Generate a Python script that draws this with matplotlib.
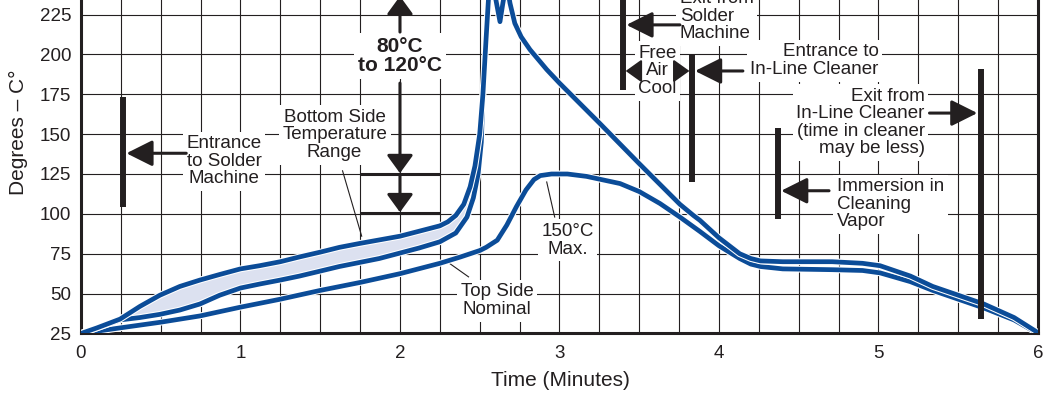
import matplotlib
matplotlib.use('Agg')
import matplotlib.pyplot as plt
import matplotlib.patheffects as pe
import numpy as np

plt.rcParams['font.family'] = ['Liberation Sans', 'DejaVu Sans']

# ---------------- data ----------------
# Bottom side temperature range - upper bound (continues through the wave peak and cooling)
bottom_hi_time = [0, 0.1, 0.245, 0.37, 0.495, 0.62, 0.746, 0.87, 1.0, 1.12, 1.25, 1.37, 1.5, 1.62,
                  1.75, 2.0, 2.25, 2.30, 2.35, 2.40, 2.44, 2.47, 2.50, 2.52, 2.54, 2.555, 2.575,
                  2.598, 2.627, 2.645, 2.668, 2.69, 2.72, 2.76, 2.815, 2.92, 3.0, 3.25, 3.5, 3.755,
                  3.84, 3.88, 4.0, 4.13, 4.2, 4.26, 4.4, 4.71, 4.9, 5.01, 5.2, 5.34, 5.5, 5.66,
                  5.85, 6.0]
bottom_hi_temp = [25, 28.5, 34, 42, 49, 54.5, 58.5, 62, 65.5, 67.5, 70, 73, 76, 79,
                  81.5, 86, 92.5, 95, 99, 106, 117, 130, 150, 175, 210, 235, 250,
                  236, 220.5, 232, 245, 232, 219.5, 211, 203, 190.5, 182, 157, 131.5, 106,
                  99, 96, 85, 75, 72, 70.5, 70, 70, 69, 67.5, 61, 54.5, 49, 43.5,
                  35, 25.5]

# Bottom side temperature range - lower bound (merges with upper bound at the wave)
bottom_lo_time = [0, 0.1, 0.245, 0.37, 0.495, 0.62, 0.746, 0.87, 1.0, 1.12, 1.25, 1.37, 1.62,
                  1.87, 2.12, 2.25, 2.35, 2.42, 2.46, 2.49, 2.51, 2.52]
bottom_lo_temp = [25, 28.5, 33.5, 35, 37, 39.7, 43.5, 49, 53.5, 56, 58.5, 61, 67,
                  72, 78.6, 82.5, 88, 98, 110, 125, 145, 175]

# Top side nominal
top_time = [0, 0.245, 0.495, 0.746, 1.0, 1.25, 1.5, 1.75, 2.0, 2.25, 2.38, 2.5, 2.54, 2.61,
            2.67, 2.73, 2.79, 2.84, 2.88, 2.95, 3.05, 3.17, 3.38, 3.5, 3.63, 3.755, 3.88, 4.0,
            4.13, 4.2, 4.26, 4.4, 4.71, 4.9, 5.01, 5.2, 5.34, 5.5, 5.66, 5.85, 6.0]
top_temp = [25, 28.5, 32, 36, 41.5, 46.5, 52, 57, 62.5, 69, 73, 77, 79, 83.5,
            93, 104.5, 115, 121.5, 124, 125, 125, 123.5, 119, 114, 106.5, 98, 89, 80,
            72, 68.5, 67, 65.5, 65, 64.5, 63, 57.5, 52, 46.5, 41, 33.5, 25]

x_ticks = [0, 1, 2, 3, 4, 5, 6]
y_ticks = [25, 50, 75, 100, 125, 150, 175, 200, 225]

INK = '#231f20'
BLUE = '#0b4c98'
FILL = '#dce1f0'

fig = plt.figure(figsize=(10.57, 4.03), dpi=100)
ax = fig.add_axes([0.0766, 0.1725, 0.9054, 0.8275])
ax.set_xlim(0, 6)
ax.set_ylim(25, 234.1)

ax.set_xticks(x_ticks)
ax.set_xticks(np.arange(0, 6.01, 0.25), minor=True)
ax.set_yticks(y_ticks)
ax.tick_params(axis='both', which='both', length=0, labelsize=13.5, colors=INK)
ax.tick_params(axis='x', pad=8)
ax.tick_params(axis='y', pad=7)
ax.grid(True, which='both', color=INK, lw=0.8, zorder=0)
ax.set_axisbelow(True)
for s in ['left', 'bottom', 'right']:
    ax.spines[s].set_linewidth(2.2)
    ax.spines[s].set_color(INK)
ax.spines['top'].set_visible(False)

fig.text(0.017, 0.672, 'Degrees – C°', rotation=90, ha='center', va='center',
         fontsize=15, color=INK)
fig.text(0.530, 0.057, 'Time (Minutes)', ha='center', va='center', fontsize=15, color=INK)

# band fill
band_x = [t for t in bottom_hi_time if t <= 2.52] + bottom_lo_time[::-1]
band_y = [v for t, v in zip(bottom_hi_time, bottom_hi_temp) if t <= 2.52] + bottom_lo_temp[::-1]
ax.fill(band_x, band_y, color=FILL, zorder=2, lw=0)

stroke = [pe.Stroke(linewidth=4.9, foreground='white'), pe.Normal()]
for xs, ys in [(top_time, top_temp), (bottom_lo_time, bottom_lo_temp),
               (bottom_hi_time, bottom_hi_temp)]:
    ax.plot(xs, ys, color=BLUE, lw=3.4, zorder=4, path_effects=stroke,
            solid_joinstyle='round', solid_capstyle='round')

# ---------- annotations ----------
box = dict(facecolor='white', edgecolor='none', pad=2.5)
tk = dict(fontsize=13.5, color=INK, linespacing=1.05, zorder=3, bbox=box)

def bar(x, y0, y1):
    ax.plot([x, x], [y0, y1], color=INK, lw=4.3, solid_capstyle='butt', zorder=5, clip_on=False)

def arrow(x0, y0, x1, y1, hl=0.8, hw=0.4, ms=20, lw=2.2):
    ax.annotate('', xy=(x1, y1), xytext=(x0, y0), annotation_clip=False,
                arrowprops=dict(arrowstyle=f'-|>,head_length={hl},head_width={hw}',
                                lw=lw, color=INK, mutation_scale=ms, shrinkA=0, shrinkB=0),
                zorder=6)

# Entrance to solder machine
bar(0.263, 104, 173)
arrow(0.66, 138, 0.285, 138)
ax.text(0.897, 133, 'Entrance\nto Solder\nMachine', ha='center', va='center', **tk)

# 80 to 120 C
ax.text(2.0, 199, '80°C\nto 120°C', ha='center', va='center', fontsize=15, fontweight='bold',
        color=INK, linespacing=1.05, zorder=3, bbox=box)
arrow(2.0, 214, 2.0, 236.5, hl=0.55, hw=0.4, ms=20)
arrow(2.0, 182, 2.0, 125.5, hl=0.55, hw=0.4, ms=20)
arrow(2.0, 125, 2.0, 101, hl=0.55, hw=0.4, ms=20)
ax.plot([1.76, 2.24], [125, 125], color=INK, lw=2.2, zorder=5)
ax.plot([1.76, 2.24], [100.5, 100.5], color=INK, lw=2.2, zorder=5)

# Bottom side temperature range
ax.text(1.59, 149.5, 'Bottom Side\nTemperature\nRange', ha='center', va='center', **tk)
ax.plot([1.64, 1.76], [127, 86], color=INK, lw=0.8, zorder=3)

# Top side nominal
ax.text(2.61, 45.5, 'Top Side\nNominal', ha='center', va='center', **tk)
ax.plot([2.31, 2.43], [69, 60.5], color=INK, lw=0.8, zorder=3)

# 150 C max
ax.text(3.05, 83.5, '150°C\nMax.', ha='center', va='center', **tk)
ax.plot([2.92, 2.97], [120, 98], color=INK, lw=0.8, zorder=3)

# Exit from solder machine
bar(3.396, 177.5, 240)
arrow(3.755, 218.5, 3.42, 218.5)
ax.text(3.755, 224, 'Exit from\nSolder\nMachine', ha='left', va='center', clip_on=False, **tk)

# Free air cool
ax.text(3.615, 189.6, 'Free\nAir\nCool', ha='center', va='center', **tk)
arrow(3.49, 189.6, 3.415, 189.6, hl=0.7, hw=0.5, ms=14, lw=1.5)
arrow(3.74, 189.6, 3.815, 189.6, hl=0.7, hw=0.5, ms=14, lw=1.5)

# Entrance to in-line cleaner
bar(3.83, 120, 200)
arrow(4.15, 189.6, 3.85, 189.6)
ax.text(5.0, 196, 'Entrance to\nIn-Line Cleaner', ha='right', va='center',
        multialignment='right', **tk)

# Exit from in-line cleaner
bar(5.64, 34, 191)
arrow(5.32, 163.2, 5.62, 163.2)
ax.text(5.29, 157.3, 'Exit from\nIn-Line Cleaner\n(time in cleaner\nmay be less)', ha='right',
        va='center', multialignment='right', **tk)

# Immersion in cleaning vapor
bar(4.37, 97, 154)
arrow(4.69, 114.5, 4.39, 114.5)
ax.text(4.74, 106, 'Immersion in\nCleaning\nVapor', ha='left', va='center', **tk)

fig.savefig('out.png', dpi=100)
